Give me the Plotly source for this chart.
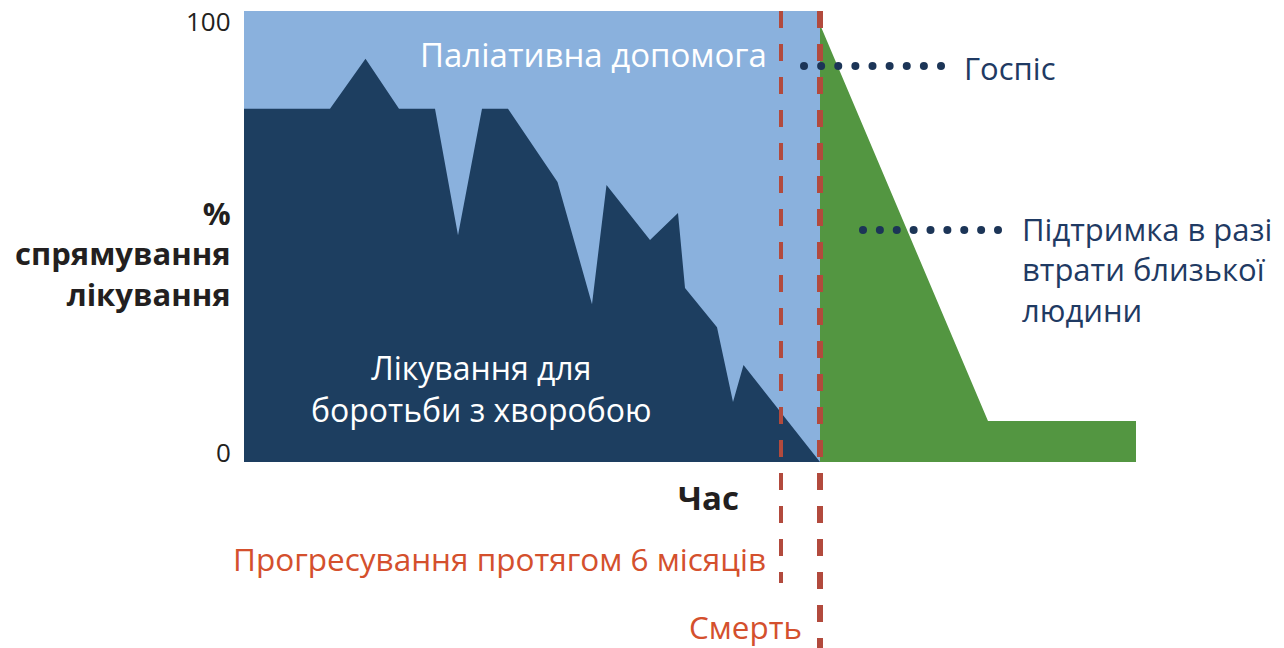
import numpy as np
import plotly.graph_objects as go

# ---- data (time in arbitrary units, value in % of treatment focus) ----
palliative_x = [0, 0, 57.6, 57.6]
palliative_y = [0, 100, 100, 0]

treatment_x = [0, 0, 8.6, 12.15, 15.5, 19.1, 21.4, 23.8, 26.4, 31.35, 34.8, 36.25,
               40.6, 43.4, 44.1, 47.3, 48.9, 49.95, 57.6]
treatment_y = [0, 78.3, 78.3, 89.4, 78.3, 78.3, 50.3, 78.3, 78.3, 62.1, 35.0, 61.4,
               49.2, 55.2, 38.6, 29.9, 13.3, 21.5, 0]

bereavement_x = [57.6, 57.6, 74.4, 89.2, 89.2]
bereavement_y = [0, 97, 9.1, 9.1, 0]

progression_x = 53.7   # start of last 6 months
death_x = 57.6

y_ticks = [0, 100]

# ---- placement (page pixel coords; body margin removed by post_script) ----
W, H = 1284, 648
PL, PR, PT, PB = 244, 1136, 11, 462          # plot area in page pixels
L, T = PL, PT
R, B = W - PR, H - PB
PW, PH = PR - PL, PB - PT


def px_x(px):
    return (px - PL) / 10.0


def px_y(py):
    return (PB - py) / 4.51


def paper_x(px):
    return (px - PL) / PW


def paper_y(py):
    return (PB - py) / PH


LIGHT = "#8AB1DD"
NAVY = "#1D3E60"
GREEN = "#539641"
DASH = "#B24A3D"
REDTXT = "#D4502D"
DARK = "#231F20"
NAVYTXT = "#1F3A63"
FONT = "Open Sans"

fig = go.Figure()
fig.add_trace(go.Scatter(x=palliative_x, y=palliative_y, fill="toself", fillcolor=LIGHT,
                         mode="lines", line=dict(width=0, color=LIGHT), hoverinfo="skip"))
fig.add_trace(go.Scatter(x=treatment_x, y=treatment_y, fill="toself", fillcolor=NAVY,
                         mode="lines", line=dict(width=0, color=NAVY), hoverinfo="skip"))
fig.add_trace(go.Scatter(x=bereavement_x, y=bereavement_y, fill="toself", fillcolor=GREEN,
                         mode="lines", line=dict(width=0, color=GREEN), hoverinfo="skip"))

# dotted leaders
fig.add_trace(go.Scatter(x=np.linspace(px_x(804), px_x(941), 9), y=[px_y(66)] * 9,
                         mode="markers", marker=dict(size=8, color="#1C3557"),
                         hoverinfo="skip", cliponaxis=False))
fig.add_trace(go.Scatter(x=np.linspace(px_x(863), px_x(998), 9), y=[px_y(230)] * 9,
                         mode="markers", marker=dict(size=8, color="#1C3557"),
                         hoverinfo="skip", cliponaxis=False))

# dashed vertical lines
fig.add_shape(type="line", xref="x", yref="paper", x0=progression_x, x1=progression_x,
              y0=1, y1=paper_y(583), line=dict(color=DASH, width=4, dash="17px,16px"))
fig.add_shape(type="line", xref="x", yref="paper", x0=death_x, x1=death_x,
              y0=1, y1=paper_y(648), line=dict(color=DASH, width=6, dash="17px,16px"))


def note(text, px, py, size, color, xanchor="center", align="center"):
    return dict(text=text, x=paper_x(px), y=paper_y(py), xref="paper", yref="paper",
                xanchor=xanchor, yanchor="middle", align=align, showarrow=False,
                font=dict(family=FONT, size=size, color=color))


ann = [
    note("Паліативна допомога", 593, 55, 33, "white"),
    note("Лікування для<br>боротьби з хворобою", 481, 388, 32, "white"),
    note("Госпіс", 962, 68, 31, NAVYTXT, xanchor="left"),
    note("Підтримка в разі<br>втрати близької<br>людини", 1020, 269, 31, NAVYTXT,
         xanchor="left", align="left"),
    note("<b>%<br>спрямування<br>лікування</b>", 233, 253, 31, DARK,
         xanchor="right", align="right"),
    note(str(y_ticks[1]), 233, 21, 26, DARK, xanchor="right"),
    note(str(y_ticks[0]), 233, 452, 26, DARK, xanchor="right"),
    note("<b>Час</b>", 741, 497, 33, DARK, xanchor="right"),
    note("Прогресування протягом 6 місяців", 768, 558, 31.5, REDTXT, xanchor="right"),
    note("Смерть", 804, 626, 31.4, REDTXT, xanchor="right"),
]

fig.update_layout(
    width=W, height=H,
    margin=dict(l=L, r=R, t=T, b=B),
    paper_bgcolor="white", plot_bgcolor="white",
    showlegend=False,
    annotations=ann,
    xaxis=dict(range=[0, 89.2], visible=False, fixedrange=True),
    yaxis=dict(range=[0, 100], visible=False, fixedrange=True),
)

fig.write_html("out.html", config={"displayModeBar": False, "staticPlot": True},
               post_script="document.body.style.margin='0';document.body.style.overflow='hidden';")
